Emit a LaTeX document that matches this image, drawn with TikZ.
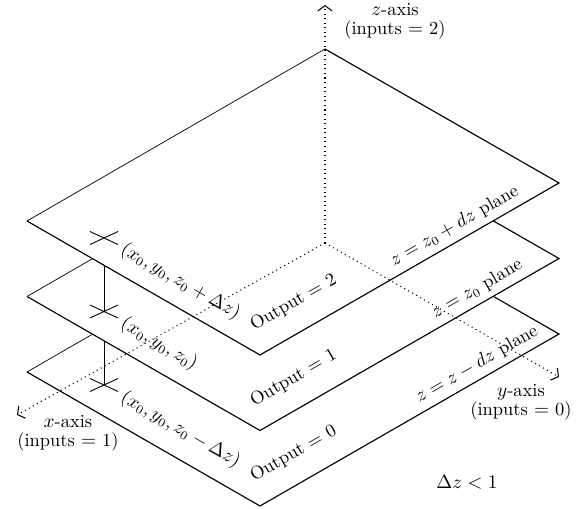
\documentclass[tikz,border=0pt]{standalone}
\usetikzlibrary{arrows.meta}
\begin{document}
\begin{tikzpicture}[x=0.02cm, y=-0.02cm,
  font=\fontsize{10.5}{11}\selectfont,
  backedge/.style={line width=0.4pt},
  frontedge/.style={line width=0.65pt, line join=miter},
  tick/.style={line width=0.5pt},
  axis/.style={line width=0.6pt, dash pattern=on 0.6pt off 2pt,
    -{Straight Barb[length=3pt,width=8pt]}},
  ]
  \useasboundingbox (0,0) rectangle (586,509);
  % corners of the three planes (a = top, b = middle, c = bottom)
  \foreach \n/\dy in {a/0, b/75.5, c/151} {
    \coordinate (\n L) at (27,221+\dy);
    \coordinate (\n T) at (325,49+\dy);
    \coordinate (\n R) at (559,183+\dy);
    \coordinate (\n B) at (260,355+\dy);
  }
  % points (x0,y0,z)
  \coordinate (aX) at (104,238);
  \coordinate (bX) at (104,311.5);
  \coordinate (cX) at (104,385);
  % axes
  \coordinate (O) at (325,243);
  \coordinate (xtip) at (17,415);
  \coordinate (ytip) at (559,377);
  \coordinate (ztip) at (325,5);

  % bottom plane
  \fill[white] (cL) -- (cT) -- (cR) -- (cB) -- cycle;
  \draw[backedge] (cL) -- (cT);
  \draw[frontedge] (cT) -- (cR) -- (cB) -- (cL);
  \draw[tick] (cX) ++(-14,-6.5) -- ++(28,13) (cX) ++(-14,6.5) -- ++(28,-13);
  \draw[tick] (cX) -- (bX);
  % middle plane
  \fill[white] (bL) -- (bT) -- (bR) -- (bB) -- cycle;
  \draw[backedge] (bL) -- (bT);
  \draw[frontedge] (bT) -- (bR) -- (bB) -- (bL);
  \draw[tick] (bX) ++(-14,-6.5) -- ++(28,13) (bX) ++(-14,6.5) -- ++(28,-13);
  \draw[tick] (bX) -- (aX);
  % top plane
  \fill[white] (aL) -- (aT) -- (aR) -- (aB) -- cycle;
  \draw[backedge] (aL) -- (aT);
  \draw[frontedge] (aT) -- (aR) -- (aB) -- (aL);
  \draw[tick] (aX) ++(-14,-6.5) -- ++(28,13) (aX) ++(-14,6.5) -- ++(28,-13);

  % dotted axes
  \draw[axis] (O) -- (xtip);
  \draw[axis] (O) -- (ytip);
  \draw[axis] (O) -- (ztip);

  % labels
  \node[rotate=-30, anchor=west] (pa) at ([shift={(13,7)}]aX) {$(x_0, y_0, z_0 + \Delta z)$};
  \node[rotate=-30, anchor=west] (pb) at ([shift={(13,8)}]bX) {$(x_0, y_0, z_0)$};
  \node[rotate=-30, anchor=west] (pc) at ([shift={(13,8)}]cX) {$(x_0, y_0, z_0 - \Delta z)$};
  \path (aB) -- (aR) node[pos=0.16, sloped, above=8pt] (oa) {Output $=$ 2}
    node[pos=0.675, sloped, above] (la) {$z = z_0 + dz$ plane};
  \path (bB) -- (bR) node[pos=0.16, sloped, above=8pt] (ob) {Output $=$ 1}
    node[pos=0.75, sloped, above] (lb) {$z = z_0$ plane};
  \path (cB) -- (cR) node[pos=0.16, sloped, above=8pt] (oc) {Output $=$ 0}
    node[pos=0.75, sloped, above] (lc) {$z = z - dz$ plane};
  \node[align=center] (zlab) at (395,21) {$z$-axis\\(inputs $=$ 2)};
  \node[align=center] (xlab) at (68,433) {$x$-axis\\(inputs $=$ 1)};
  \node[align=center] (ylab) at (521,402) {$y$-axis\\(inputs $=$ 0)};
  \node (dz) at (467,482) {$\Delta z < 1$};
\end{tikzpicture}
\end{document}
